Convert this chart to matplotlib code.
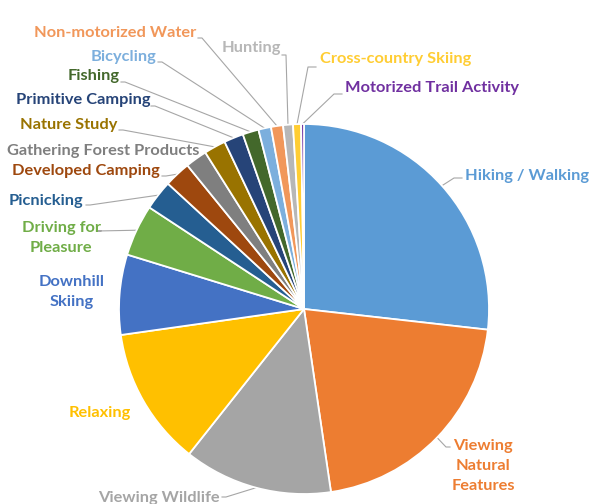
import matplotlib.pyplot as plt
import numpy as np

plt.rcParams['font.family'] = ['Lato', 'DejaVu Sans']

# 活动类别及占比(%)
activities = ['Hiking / Walking', 'Viewing\nNatural\nFeatures', 'Viewing Wildlife',
              'Relaxing', 'Downhill\nSkiing', 'Driving for\nPleasure', 'Picnicking',
              'Developed Camping', 'Gathering Forest Products', 'Nature Study',
              'Primitive Camping', 'Fishing', 'Bicycling', 'Non-motorized Water',
              'Hunting', 'Cross-country Skiing', 'Motorized Trail Activity']
shares = [26.8, 20.9, 13.0, 12.1, 7.0, 4.5, 2.6, 2.3, 1.9, 1.9, 1.7, 1.4,
          1.1, 1.05, 0.86, 0.7, 0.25]
colors = ['#5B9BD5', '#ED7D31', '#A5A5A5', '#FFC000', '#4472C4', '#70AD47',
          '#255E91', '#9E480E', '#7F7F7F', '#997300', '#264478', '#43682B',
          '#7CAFDD', '#F1975A', '#B7B7B7', '#FFCD33', '#7030A0']

# 标签位置(像素, y 自上而下), 对齐方式
label_pos = [(465, 176, 'left'), (483, 466, 'center'), (220, 498, 'right'),
             (131, 413, 'right'), (72, 292, 'center'), (61, 238, 'center'),
             (83, 201, 'right'), (160, 171, 'right'), (199, 151, 'right'),
             (117, 125, 'right'), (150, 100, 'right'), (120, 76, 'right'),
             (156, 57, 'right'), (196, 33, 'right'), (281, 48, 'right'),
             (320, 59, 'left'), (345, 88, 'left')]
# 引线起点(靠近标签一端)
line_start = [(462, 178), (450, 447), (222, 497), None, None, (101, 231),
              (86, 205), (162, 176), (201, 156), (119, 130), (151, 106),
              (121, 82), (158, 62), (198, 38), (282, 55), (316, 67), (342, 94)]

W, H = 591, 504
fig = plt.figure(figsize=(W / 100, H / 100), dpi=100)
ax = fig.add_axes([0, 0, 1, 1])

cx, cy, r = 304, H - 309, 185
wedges, _ = ax.pie(shares, colors=colors, startangle=90, counterclock=False,
                   center=(cx, cy), radius=r, explode=[0.012] * len(shares),
                   wedgeprops=dict(edgecolor='white', linewidth=1.3))

for w, lab, col, (tx, ty, ha), ls in zip(wedges, activities, colors, label_pos, line_start):
    mid = np.deg2rad((w.theta1 + w.theta2) / 2)
    ex, ey = cx + r * np.cos(mid), cy + r * np.sin(mid)
    if ls is not None:
        lx, ly = ls[0], H - ls[1]
        elbow = lx - 8 if ha == 'left' else (lx + 4 if ha == 'right' else lx - 4)
        ax.plot([ex, elbow, lx], [ey, ly, ly], color='#A6A6A6', lw=0.8, zorder=0)
    ax.text(tx, H - ty, lab, color=col, fontsize=11.8, fontweight='bold',
            ha=ha, va='center', multialignment='center', linespacing=1.55)

ax.set_xlim(0, W)
ax.set_ylim(0, H)
ax.axis('off')
fig.savefig('out.png', dpi=100)
